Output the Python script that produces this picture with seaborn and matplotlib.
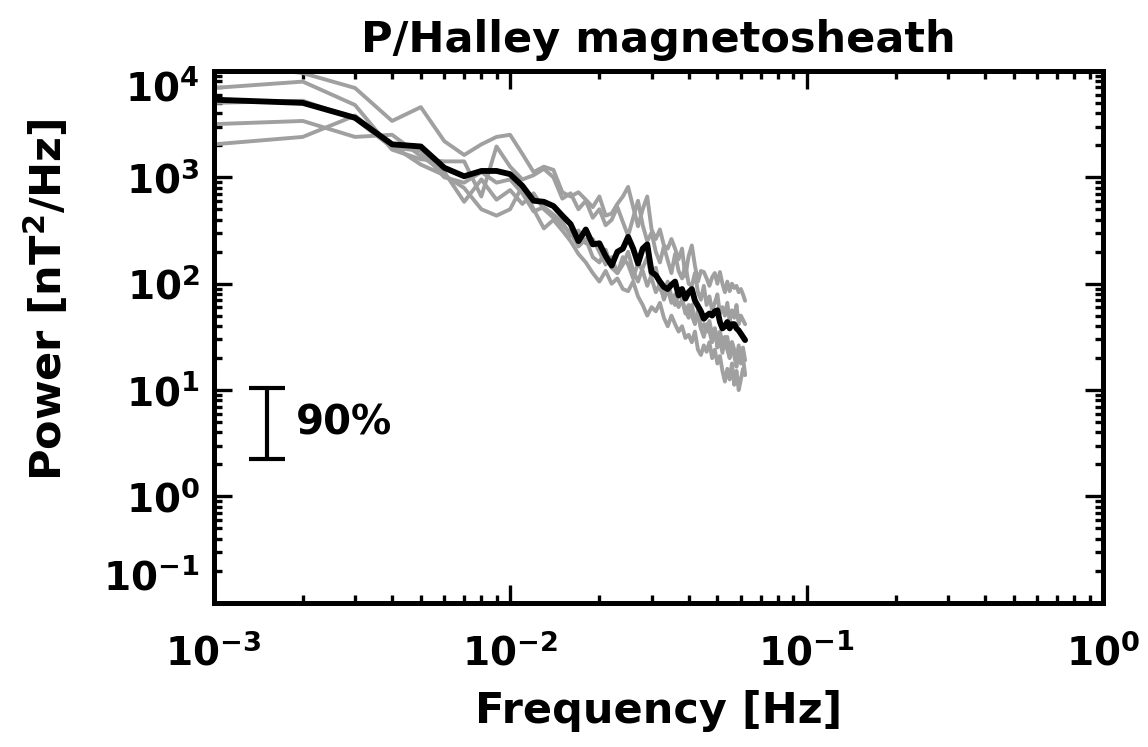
import numpy as np
import pandas as pd
import matplotlib
matplotlib.use("Agg")
import matplotlib.pyplot as plt
import seaborn as sns
from matplotlib.transforms import ScaledTranslation

# frequency grid of the spectra: 1 mHz steps, 1..62 mHz
freq_hz = np.arange(1, 63) * 1e-3

# power, stored as log10(nT^2/Hz)
mean_log10 = [3.73, 3.70, 3.56, 3.31, 3.29, 3.09, 3.01, 3.06, 3.06, 3.03,
              2.92, 2.78, 2.77, 2.73, 2.64, 2.56, 2.40, 2.51, 2.37, 2.38,
              2.26, 2.17, 2.30, 2.33, 2.44, 2.33, 2.19, 2.33, 2.37, 2.11,
              2.08, 2.02, 1.97, 1.95, 1.99, 2.02, 1.89, 1.95, 1.86, 1.92,
              1.95, 1.84, 1.79, 1.74, 1.67, 1.70, 1.72, 1.70, 1.74, 1.75,
              1.64, 1.58, 1.60, 1.64, 1.58, 1.62, 1.62, 1.58, 1.56, 1.53,
              1.50, 1.47]

int1_log10 = [4.08, 3.98, 3.84, 3.53, 3.66, 3.34, 3.21, 3.31, 3.38, 3.40,
              3.22, 3.05, 3.10, 3.07, 2.86, 2.82, 2.86, 2.79, 2.72, 2.82,
              2.64, 2.66, 2.75, 2.82, 2.91, 2.72, 2.54, 2.70, 2.82, 2.51,
              2.42, 2.51, 2.36, 2.33, 2.42, 2.33, 2.23, 2.33, 2.07, 2.26,
              2.36, 2.17, 2.02, 2.12, 2.11, 2.05, 1.98, 2.06, 2.10, 2.00,
              2.11, 2.00, 1.92, 2.02, 1.93, 2.00, 1.96, 1.98, 1.92, 1.95,
              1.90, 1.84]

int2_log10 = [3.84, 3.90, 3.68, 3.26, 3.17, 3.15, 3.15, 2.82, 3.29, 3.10,
              2.98, 3.02, 3.08, 3.00, 2.80, 2.85, 2.70, 2.78, 2.62, 2.70,
              2.55, 2.60, 2.72, 2.58, 2.45, 2.62, 2.78, 2.55, 2.40, 2.48,
              2.30, 2.20, 2.35, 2.22, 2.10, 2.28, 2.12, 2.05, 2.18, 2.00,
              1.98, 2.10, 1.92, 1.85, 1.98, 1.80, 1.88, 1.75, 1.82, 1.90,
              1.72, 1.78, 1.70, 1.82, 1.65, 1.75, 1.68, 1.80, 1.62, 1.70,
              1.66, 1.62]

int3_log10 = [3.50, 3.53, 3.38, 3.40, 3.20, 3.05, 2.77, 2.98, 2.79, 2.88,
              2.75, 2.85, 2.70, 2.62, 2.55, 2.48, 2.35, 2.42, 2.25, 2.20,
              2.32, 2.15, 2.10, 2.25, 2.18, 2.05, 2.20, 2.12, 1.98, 2.08,
              2.15, 1.95, 1.90, 2.02, 1.88, 1.80, 1.92, 1.85, 1.72, 1.80,
              1.70, 1.62, 1.75, 1.58, 1.50, 1.62, 1.55, 1.45, 1.58, 1.40,
              1.48, 1.35, 1.50, 1.38, 1.30, 1.45, 1.32, 1.22, 1.38, 1.25,
              1.30, 1.15]

int4_log10 = [3.31, 3.38, 3.58, 3.30, 3.12, 3.02, 2.90, 2.70, 2.64, 2.70,
              2.92, 2.70, 2.52, 2.60, 2.50, 2.40, 2.28, 2.20, 2.10, 2.02,
              2.12, 2.00, 2.05, 1.95, 1.93, 2.02, 1.88, 1.80, 1.70, 1.78,
              1.74, 1.82, 1.68, 1.60, 1.70, 1.62, 1.55, 1.60, 1.49, 1.52,
              1.45, 1.55, 1.38, 1.33, 1.42, 1.36, 1.45, 1.30, 1.38, 1.25,
              1.32, 1.18, 1.08, 1.20, 1.10, 1.25, 1.05, 1.18, 1.00, 1.10,
              1.20, 1.14]

int5_log10 = [3.70, 3.72, 3.55, 3.28, 3.25, 3.00, 2.95, 3.05, 2.95, 2.98,
              2.85, 2.68, 2.72, 2.65, 2.58, 2.45, 2.50, 2.38, 2.42, 2.30,
              2.18, 2.25, 2.10, 2.18, 2.30, 2.12, 2.02, 2.15, 2.25, 2.05,
              1.92, 2.00, 1.85, 1.95, 1.82, 1.90, 1.78, 1.85, 1.75, 1.68,
              1.80, 1.65, 1.70, 1.58, 1.62, 1.55, 1.65, 1.52, 1.58, 1.48,
              1.55, 1.45, 1.40, 1.50, 1.35, 1.45, 1.38, 1.30, 1.42, 1.32,
              1.40, 1.28]

# 90% confidence bar
ci_freq = 1.52e-3
ci_low = 2.26
ci_high = 10.5
ci_mid = 4.9

interval_names = ["int1", "int2", "int3", "int4", "int5"]
interval_logs = [int1_log10, int2_log10, int3_log10, int4_log10, int5_log10]

gray = pd.concat([
    pd.DataFrame({"freq": freq_hz, "power": 10 ** np.array(v), "interval": n})
    for n, v in zip(interval_names, interval_logs)
])
mean = pd.DataFrame({"freq": freq_hz, "power": 10 ** np.array(mean_log10)})

sns.set_theme(style="ticks")
plt.rcParams["font.family"] = ["DejaVu Sans"]
plt.rcParams["font.weight"] = "bold"
plt.rcParams["text.color"] = "black"
plt.rcParams["axes.labelcolor"] = "black"
plt.rcParams["xtick.color"] = "black"
plt.rcParams["ytick.color"] = "black"
plt.rcParams["mathtext.fontset"] = "custom"
plt.rcParams["mathtext.rm"] = "DejaVu Sans:bold"
plt.rcParams["mathtext.it"] = "DejaVu Sans:bold"
plt.rcParams["mathtext.bf"] = "DejaVu Sans:bold"
plt.rcParams["mathtext.default"] = "rm"

fig, ax = plt.subplots(figsize=(11.48, 7.47), dpi=100)
fig.subplots_adjust(left=0.186, right=0.961, bottom=0.193, top=0.905)

sns.lineplot(data=gray, x="freq", y="power", units="interval", estimator=None,
             color="#a0a0a0", sort=False, ax=ax)
sns.lineplot(data=mean, x="freq", y="power", color="black",
             sort=False, ax=ax)
# seaborn leaves its own widths; thicken the curves afterwards
for ln in ax.lines:
    if ln.get_color() == "black":
        ln.set_linewidth(4.2)
    else:
        ln.set_linewidth(2.8)

ax.errorbar([ci_freq], [ci_mid], yerr=[[ci_mid - ci_low], [ci_high - ci_mid]],
            fmt="none", ecolor="black", elinewidth=3.0, capsize=13,
            capthick=3.0)
ax.text(1.9e-3, ci_mid, "90%", fontsize=29, fontweight="bold",
        va="center", ha="left")

ax.set_xscale("log")
ax.set_yscale("log")
ax.set_xlim(1e-3, 1)
ax.set_ylim(1e-1, 1e4)
ax.set_xticks([1e-3, 1e-2, 1e-1, 1])
ax.set_yticks([1e-1, 1, 10, 100, 1e3, 1e4])

for s in ax.spines.values():
    s.set_linewidth(3.6)
    s.set_color("black")
ax.tick_params(which="both", direction="in", top=True, right=True,
               width=2.4, color="black")
ax.tick_params(which="major", length=13, labelsize=28)
ax.tick_params(which="minor", length=6)
ax.tick_params(axis="x", which="major", pad=22)
ax.tick_params(axis="y", which="major", pad=10)

ax.set_title("P/Halley magnetosheath", fontsize=31, fontweight="bold", pad=14)
ax.set_xlabel("Frequency [Hz]", fontsize=31, fontweight="bold", labelpad=12)
ax.set_ylabel("Power [nT$^2$/Hz]", fontsize=31, fontweight="bold")
ax.yaxis.set_label_coords(-0.16, 0.57)

# end labels sit inside the axis range, as in the original
yt = ax.yaxis.get_major_ticks()
yt[0].label1.set_transform(yt[0].label1.get_transform() +
                           ScaledTranslation(0, 0.29, fig.dpi_scale_trans))
yt[-1].label1.set_transform(yt[-1].label1.get_transform() +
                            ScaledTranslation(0, -0.14, fig.dpi_scale_trans))

fig.savefig("out.png", dpi=100)
